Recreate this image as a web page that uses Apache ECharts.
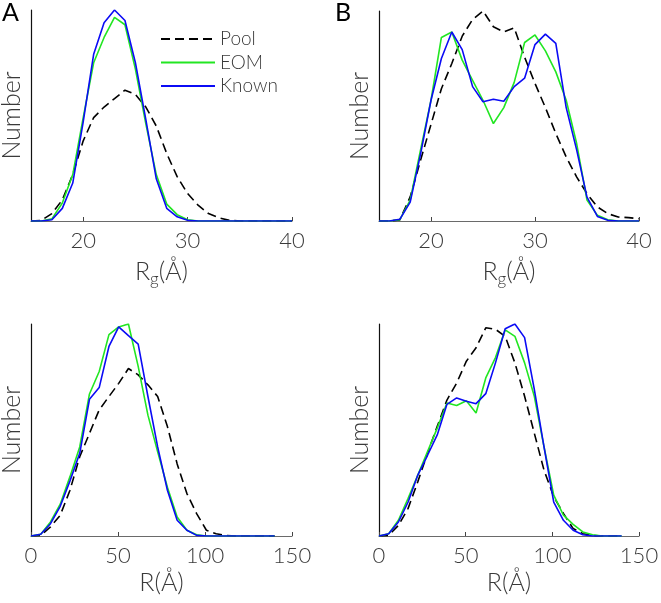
<!DOCTYPE html>
<html><head><meta charset="utf-8">
<script src="https://cdn.jsdelivr.net/npm/echarts@6/dist/echarts.min.js"></script>
<style>html,body{margin:0;padding:0;background:#fff}#c{width:661px;height:603px}</style>
</head><body><div id="c"></div>
<script>
// Panel A/B top: Rg from 15 to 40 step 1
const rgX = [15,16,17,18,19,20,21,22,23,24,25,26,27,28,29,30,31,32,33,34,35,36,37,38,39,40];
const aRgPool  = [0,0.3,3.5,10,22,38,49,54,58,62,60,54,45,32,21,13,7.5,3.5,1.5,0.3,0,0,0,0,0,0];
const aRgEOM   = [0,0,1,8.5,22,49,75,87,96.5,93,72,46,22,8,3,0.6,0,0,0,0,0,0,0,0,0,0];
const aRgKnown = [0,0,0.6,6,18,47,79,94,100,95,75,48,20,6,2,0.3,0,0,0,0,0,0,0,0,0,0];
const bRgPool  = [0,0,0.5,11.5,29,46,63,75,88,96,100,92.5,90,92,78,65.5,54,41.7,30.5,21,13,6.7,3.5,1.9,1.6,1.1];
const bRgEOM   = [0,0,0.6,10,34,57.5,87.4,90,76.6,67,57.5,46.4,54,66,85,88.6,81,71,57.5,37,10,2.7,0.6,0,0,0];
const bRgKnown = [0,0,0.8,9,32,57.5,77.4,90,81.6,64,56.8,58,57,64,68,84,89,84.6,54,34,11.4,2.2,0.3,0,0,0];
// Bottom: R from 0 to 140 step 5.6
const rX = [0,5.6,11.2,16.8,22.4,28,33.6,39.2,44.8,50.4,56,61.6,67.2,72.8,78.4,84,89.6,95.2,100.8,106.4,112,117.6,123.2,128.8,134.4,140];
const aRPool  = [0,0.3,4.3,9.8,21.6,37.4,48.4,59.5,65.8,72,79,76,71.3,65.8,51.6,34,20,10.6,2.7,1.1,0.3,0,0,0,0,0];
const aREOM   = [0,0.8,6.6,15,28,42,67,77.6,95,98.6,100,80,57,39.7,23,9,2.7,0.6,0,0,0,0,0,0,0,0];
const aRKnown = [0,0.8,5.8,14,26,39,64.5,70,89.4,98.6,94.5,90.5,65.8,42,21.6,7.4,2.7,0.3,0,0,0,0,0,0,0,0];
const bRPool  = [0,0.3,5,13,25.6,39,51.6,64,72,82.3,88.6,98,97.3,94,81.5,65.8,48.4,31,18.5,10.6,3.5,1.1,0.3,0,0,0];
const bREOM   = [0,1.1,7.4,17.7,28.7,39.7,50.8,62.6,61.4,63.7,57.9,74.4,84,97,94,81.5,65.8,42,19.2,9.8,5.5,1.9,0.6,0,0,0];
const bRKnown = [0,1.1,6.6,16,28.7,38,47.6,62,65,63.4,62.3,67,81.5,97.6,99.8,93.4,69,42,16,7.4,2.7,0.6,0,0,0,0];
const rgTicks = [20,30,40];
const rTicks = [0,50,100,150];
const seriesNames = ['Pool','EOM','Known'];

const colors = {Pool:'#000000', EOM:'#22e622', Known:'#0b0bf5'};
const font = 'Lato, Open Sans, DejaVu Sans, sans-serif';
const fw = 300;
const txt = '#3a3a3a';
const pair = (xs, ys) => xs.map((x,i)=>[x, ys[i]]);

const grids = [
  {left:31, top:10, width:261, height:211, outerBoundsMode:'none', containLabel:false},
  {left:379, top:11, width:260, height:210, outerBoundsMode:'none', containLabel:false},
  {left:31, top:324, width:261, height:212, outerBoundsMode:'none', containLabel:false},
  {left:379, top:324, width:260, height:212, outerBoundsMode:'none', containLabel:false}
];
function xAxis(i, isRg){
  const ax = {
    gridIndex:i, type:'value',
    min: isRg?15:0, max: isRg?40:150,
    axisLine:{show:true, onZero:false, lineStyle:{color:'#6a6a6a', width:1.2}},
    axisTick:{show:true, inside:true, length:4, lineStyle:{color:'#444'}},
    axisLabel:{color:txt, fontSize:22, fontFamily:font, fontWeight:fw, margin:9},
    splitLine:{show:false},
    name: isRg ? '{r|R}{s|g}{r|(Å)}' : 'R(Å)',
    nameLocation:'middle', nameGap:34,
    nameTextStyle:{color:txt, fontSize:25, fontFamily:font, fontWeight:fw,
      rich:{r:{fontSize:25, color:txt, fontFamily:font, fontWeight:fw}, s:{fontSize:17, color:txt, fontFamily:font, fontWeight:fw, padding:[16,0,0,0]}}}
  };
  if (isRg){
    ax.axisLabel.customValues = rgTicks;
    ax.axisTick.customValues = rgTicks;
  } else {
    ax.interval = 50;
  }
  return ax;
}
function yAxis(i){
  return {gridIndex:i, type:'value', min:0, max:'dataMax',
    axisLine:{show:true, lineStyle:{color:'#111', width:1.2}},
    axisTick:{show:false}, axisLabel:{show:false}, splitLine:{show:false},
    name:'Number', nameLocation:'middle', nameGap:7, nameRotate:90,
    nameTextStyle:{color:txt, fontSize:25, fontFamily:font, fontWeight:fw}};
}
function mk(name, gi, xs, ys){
  const c = colors[name];
  return {name, type:'line', xAxisIndex:gi, yAxisIndex:gi, data:pair(xs, ys),
    symbol:'none', showSymbol:false, animation:false, z: name==='Pool'?3:(name==='EOM'?4:5),
    lineStyle:{color:c, width:1.6, type:name==='Pool'?[9,5]:'solid'},
    itemStyle:{color:c}};
}
const series = [
  mk('Pool',0,rgX,aRgPool), mk('EOM',0,rgX,aRgEOM), mk('Known',0,rgX,aRgKnown),
  mk('Pool',1,rgX,bRgPool), mk('EOM',1,rgX,bRgEOM), mk('Known',1,rgX,bRgKnown),
  mk('Pool',2,rX,aRPool), mk('EOM',2,rX,aREOM), mk('Known',2,rX,aRKnown),
  mk('Pool',3,rX,bRPool), mk('EOM',3,rX,bREOM), mk('Known',3,rX,bRKnown)
];
const chart = echarts.init(document.getElementById('c'), null, {renderer:'canvas'});
chart.setOption({
  animation:false,
  backgroundColor:'#fff',
  grid: grids,
  xAxis: [xAxis(0,true), xAxis(1,true), xAxis(2,false), xAxis(3,false)],
  yAxis: [yAxis(0), yAxis(1), yAxis(2), yAxis(3)],
  legend:{data:seriesNames, orient:'vertical', left:155, top:24, itemWidth:54, itemHeight:20, itemGap:3.5,
    itemStyle:{opacity:0},
    textStyle:{color:txt, fontSize:19, fontFamily:font, fontWeight:fw, lineHeight:20}, selectedMode:false},
  graphic:[
    {type:'text', left:2, top:0, style:{text:'A', fontSize:25, fontFamily:font, fill:'#000'}},
    {type:'text', left:335, top:0, style:{text:'B', fontSize:25, fontFamily:font, fill:'#000'}}
  ],
  series
});
</script></body></html>
